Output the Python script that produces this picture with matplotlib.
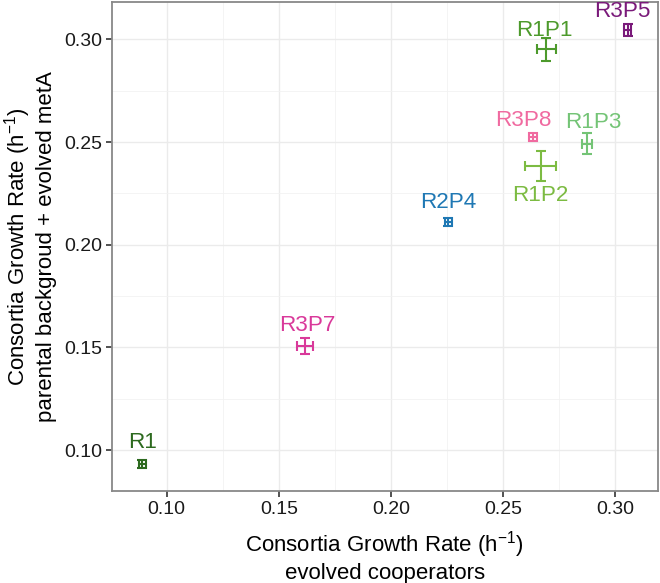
import matplotlib
matplotlib.use('Agg')
import matplotlib.pyplot as plt

plt.rcParams['font.family'] = ['Liberation Sans', 'DejaVu Sans']
plt.rcParams['mathtext.fontset'] = 'custom'
plt.rcParams['mathtext.rm'] = 'Liberation Sans'

# consortia growth rates
strains = ['R1', 'R3P7', 'R2P4', 'R3P8', 'R1P2', 'R1P1', 'R1P3', 'R3P5']
coop_rate = [0.0891, 0.1616, 0.2255, 0.2632, 0.2667, 0.2692, 0.2872, 0.3055]
coop_err = [0.0015, 0.0034, 0.0015, 0.0018, 0.0069, 0.0042, 0.0022, 0.0017]
meta_rate = [0.0932, 0.1508, 0.2110, 0.2524, 0.2383, 0.2951, 0.2492, 0.3045]
meta_err = [0.0020, 0.0040, 0.0018, 0.0020, 0.0073, 0.0055, 0.0050, 0.0030]

colors = ['#2d6a1f', '#d9399a', '#1f78b4', '#f06aa0', '#7cbb42',
          '#4d9a2c', '#74c476', '#7a1a7a']
# label offsets (points) relative to each point
label_offsets = [(0, 15.5), (2, 14.4), (0, 14), (-7, 12), (0, -21),
                 (-1, 13.5), (5, 15.5), (-4, 13.5)]

fig = plt.figure(figsize=(6.6, 5.83), dpi=100)
ax = fig.add_axes([0.1694, 0.1578, 0.8274, 0.8388])

for i, name in enumerate(strains):
    ax.errorbar(coop_rate[i], meta_rate[i], xerr=coop_err[i], yerr=meta_err[i],
                fmt='none', ecolor=colors[i], elinewidth=1.5, capsize=3.8,
                capthick=1.5, zorder=3)
    ax.annotate(name, (coop_rate[i], meta_rate[i]), xytext=label_offsets[i],
                textcoords='offset points', ha='center', va='center',
                fontsize=16.2, color=colors[i], zorder=4)

ax.set_xlim(0.0755, 0.319)
ax.set_ylim(0.0801, 0.3182)
ax.set_xticks([0.10, 0.15, 0.20, 0.25, 0.30])
ax.set_yticks([0.10, 0.15, 0.20, 0.25, 0.30])
ax.set_xticks([0.125, 0.175, 0.225, 0.275], minor=True)
ax.set_yticks([0.125, 0.175, 0.225, 0.275], minor=True)
ax.set_xticklabels(['0.10', '0.15', '0.20', '0.25', '0.30'])
ax.set_yticklabels(['0.10', '0.15', '0.20', '0.25', '0.30'])

ax.grid(which='major', color='#ebebeb', linewidth=1.0, zorder=0)
ax.grid(which='minor', color='#f2f2f2', linewidth=0.6, zorder=0)
ax.set_axisbelow(True)
ax.tick_params(which='major', direction='out', length=4, width=1.2,
               color='#333333', labelsize=14, labelcolor='#1a1a1a', pad=3)
ax.tick_params(which='minor', length=0)
for sp in ax.spines.values():
    sp.set_color('#888888')
    sp.set_linewidth(1.3)

ax.set_xlabel('Consortia Growth Rate (h$^{\\mathregular{-1}}$)\nevolved cooperators',
              fontsize=16, labelpad=8, linespacing=1.2)
ax.set_ylabel('Consortia Growth Rate (h$^{\\mathregular{-1}}$)\nparental backgroud + evolved metA',
              fontsize=16, labelpad=5, linespacing=1.2)

fig.savefig('out.png', dpi=100)
